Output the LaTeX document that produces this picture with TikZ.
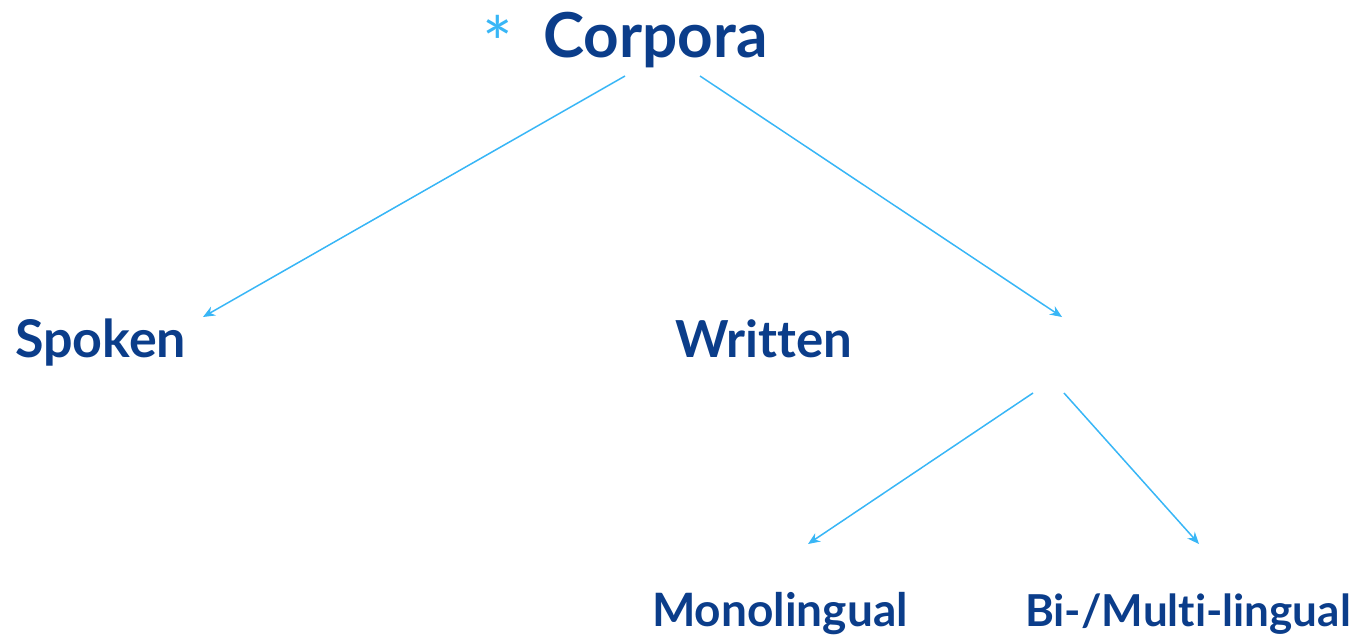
\documentclass[tikz,border=0pt]{standalone}
\usepackage{fontspec}
\setmainfont{Lato}[Ligatures=NoCommon]
\usetikzlibrary{arrows.meta}
\definecolor{labelblue}{HTML}{0B3D8A}
\definecolor{linkblue}{HTML}{38B6F6}
\tikzset{
  lbl/.style={inner sep=0pt, anchor=base west, text=labelblue, font=\bfseries},
  link/.style={draw=linkblue, line width=1.5pt, -{Stealth[length=12pt,width=10pt]}},
}
\begin{document}
\begin{tikzpicture}[x=1pt,y=-1pt]
  \useasboundingbox (0,0) rectangle (1357,638);
  % heading
  \node[inner sep=0pt, anchor=north, text=linkblue, font=\fontsize{72}{72}\selectfont] (star) at (498,15) {*};
  \node[lbl, font=\bfseries\fontsize{62}{62}\selectfont] (corpora) at (543,57) {Corpora};
  % second level
  \node[lbl, font=\bfseries\fontsize{52}{52}\selectfont] (spoken) at (15,357) {Spoken};
  \node[lbl, font=\bfseries\fontsize{51}{51}\selectfont] (written) at (675,357) {Written};
  % third level
  \node[lbl, font=\bfseries\fontsize{46}{46}\selectfont] (mono) at (652,626) {Monolingual};
  \node[lbl, font=\bfseries\fontsize{44}{44}\selectfont] (multi) at (1025,626) {Bi-/Multi-lingual};
  % connector end points
  \coordinate (c1) at (625,76);
  \coordinate (c2) at (700,76);
  \coordinate (s1) at (203,317);
  \coordinate (w1) at (1062,317);
  \coordinate (w2) at (1033,393);
  \coordinate (w3) at (1064,393);
  \coordinate (m1) at (808,544);
  \coordinate (b1) at (1199,544);
  \draw[link] (c1) -- (s1);
  \draw[link] (c2) -- (w1);
  \draw[link] (w2) -- (m1);
  \draw[link] (w3) -- (b1);
\end{tikzpicture}
\end{document}
